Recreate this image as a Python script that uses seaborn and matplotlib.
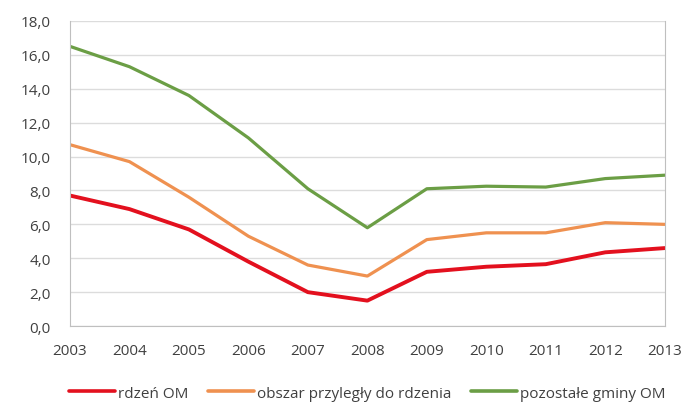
import numpy as np
import pandas as pd
import seaborn as sns
import matplotlib.pyplot as plt
from matplotlib.ticker import FuncFormatter

years = [2003, 2004, 2005, 2006, 2007, 2008, 2009, 2010, 2011, 2012, 2013]
rdzen = [7.7, 6.9, 5.7, 3.8, 2.0, 1.5, 3.2, 3.5, 3.65, 4.35, 4.6]
przylegly = [10.7, 9.7, 7.6, 5.3, 3.6, 2.95, 5.1, 5.5, 5.5, 6.1, 6.0]
pozostale = [16.5, 15.3, 13.6, 11.1, 8.1, 5.8, 8.1, 8.25, 8.2, 8.7, 8.9]

labels = ["rdzeń OM", "obszar przyległy do rdzenia", "pozostałe gminy OM"]
colors = ["#e3101e", "#ef9150", "#6b9e45"]

df = pd.DataFrame({"rok": years, labels[0]: rdzen, labels[1]: przylegly, labels[2]: pozostale})
df_long = df.melt(id_vars="rok", var_name="seria", value_name="wartosc")

sns.set_style("white")
plt.rcParams["font.family"] = ["Open Sans", "DejaVu Sans"]

fig = plt.figure(figsize=(6.86, 4.14), dpi=100)
ax = fig.add_axes([0.102, 0.21, 0.867, 0.737])

sns.lineplot(data=df_long, x="rok", y="wartosc", hue="seria", hue_order=labels,
             palette=colors, linewidth=2.6, ax=ax)
for ln, w in zip(ax.lines, [2.8, 2.3, 2.3]):
    ln.set_linewidth(w)

ax.set_xlim(2003, 2013)
ax.set_ylim(0, 18)
ax.set_yticks(np.arange(0, 18.1, 2))
ax.yaxis.set_major_formatter(FuncFormatter(lambda v, p: f"{v:.1f}".replace(".", ",")))
ax.set_xticks(years)
ax.set_xlabel("")
ax.set_ylabel("")
ax.grid(axis="y", color="#dcdcdc", linewidth=1)
for s in ["left", "bottom", "right"]:
    ax.spines[s].set_color("#bfbfbf")
ax.spines["top"].set_visible(False)
ax.tick_params(axis="y", labelsize=11, colors="#404040", length=0, pad=14)
ax.tick_params(axis="x", labelsize=11, colors="#404040", length=4, color="#bfbfbf",
               direction="out", pad=8)

ax.legend(loc="upper center", bbox_to_anchor=(0.5, -0.15), ncol=3, frameon=False,
          fontsize=11, handlelength=3.0, handletextpad=0.2, columnspacing=1.3,
          labelcolor="#404040")

fig.savefig("out.png", dpi=100)
